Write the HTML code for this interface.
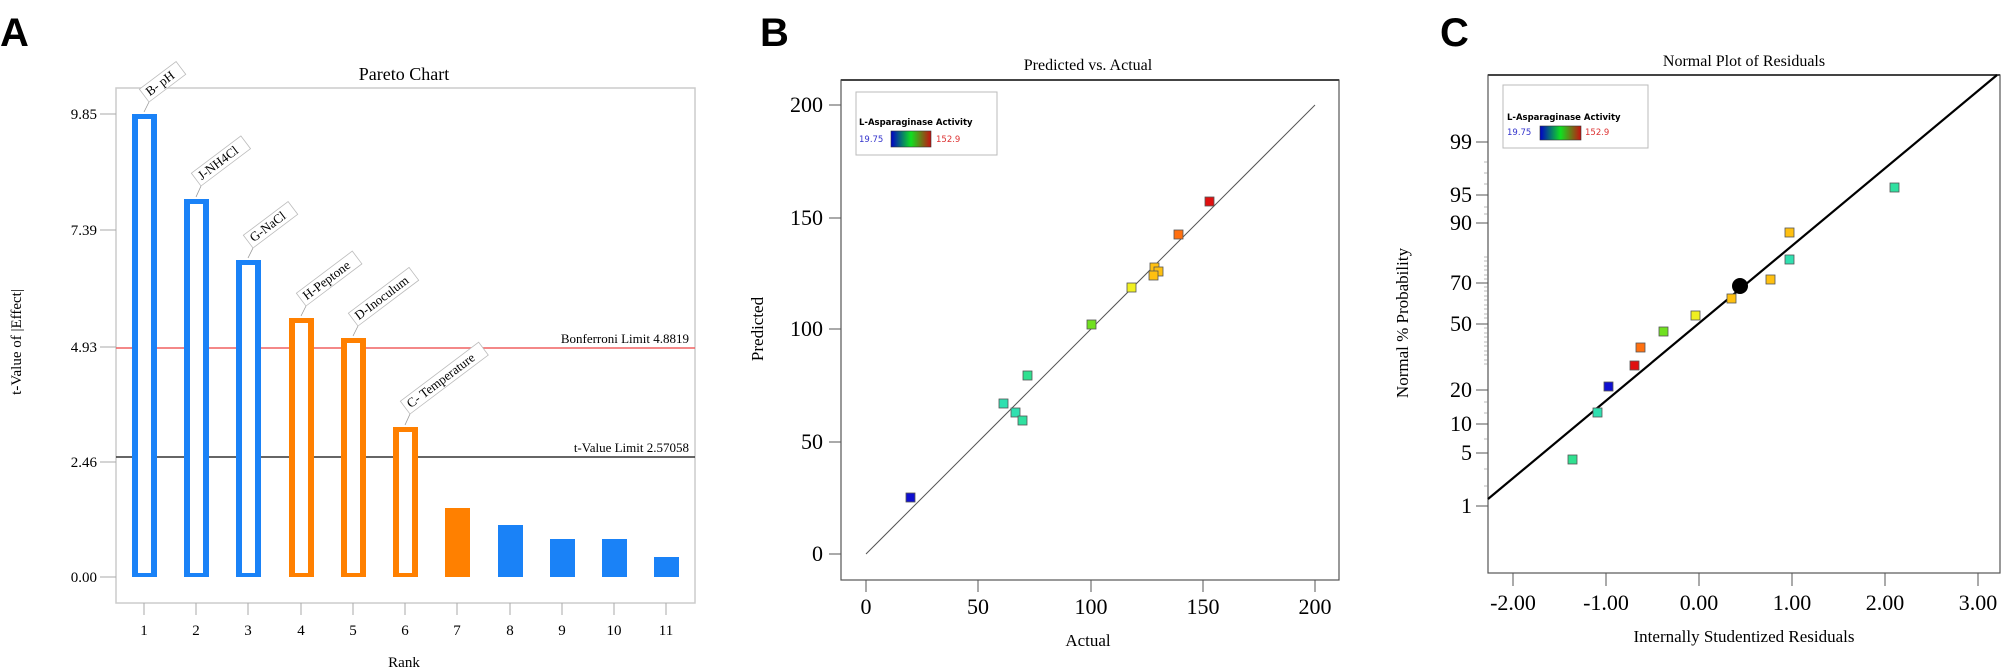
<!DOCTYPE html>
<html><head><meta charset="utf-8"><style>
html,body{margin:0;padding:0;background:#fff;}
svg{display:block;}
.s{font-family:"Liberation Serif",serif;}
.b{font-family:"DejaVu Sans",sans-serif;}
</style></head><body>
<svg width="2008" height="670" viewBox="0 0 2008 670" xmlns="http://www.w3.org/2000/svg">
<defs>
<linearGradient id="g" x1="0" x2="1" y1="0" y2="0">
<stop offset="0" stop-color="#0000c8"/><stop offset="0.5" stop-color="#10e020"/><stop offset="1" stop-color="#c81010"/>
</linearGradient>
</defs>
<text x="0" y="46" font-family="Liberation Sans, sans-serif" font-weight="bold" font-size="40">A</text>
<text x="760" y="46" font-family="Liberation Sans, sans-serif" font-weight="bold" font-size="40">B</text>
<text x="1440" y="46" font-family="Liberation Sans, sans-serif" font-weight="bold" font-size="40">C</text>

<!-- ===== Panel A ===== -->
<g class="s">
<text x="404" y="80" font-size="18" text-anchor="middle">Pareto Chart</text>
<rect x="116" y="88" width="579" height="515" fill="none" stroke="#ccc" stroke-width="1.5"/>
<g font-size="15" text-anchor="end">
<text x="97" y="119">9.85</text><text x="97" y="235">7.39</text>
<text x="97" y="352">4.93</text><text x="97" y="467">2.46</text><text x="97" y="582">0.00</text>
</g>
<g stroke="#aaa"><line x1="100" y1="114" x2="116" y2="114"/><line x1="100" y1="230" x2="116" y2="230"/><line x1="100" y1="347" x2="116" y2="347"/><line x1="100" y1="462" x2="116" y2="462"/><line x1="100" y1="577" x2="116" y2="577"/></g>
<text transform="translate(21,342) rotate(-90)" font-size="15" text-anchor="middle">t-Value of |Effect|</text>
<line x1="116" y1="348" x2="695" y2="348" stroke="#f06060" stroke-width="1.5"/>
<line x1="116" y1="457" x2="695" y2="457" stroke="#333" stroke-width="1.5"/>
<text x="689" y="343" font-size="13" text-anchor="end">Bonferroni Limit 4.8819</text>
<text x="689" y="452" font-size="13" text-anchor="end">t-Value Limit 2.57058</text>
<g>
<rect x="132" y="114" width="25" height="463" fill="#1a82f7"/><rect x="138" y="119" width="13" height="454" fill="#fff"/>
<rect x="184" y="199" width="25" height="378" fill="#1a82f7"/><rect x="190" y="204" width="13" height="369" fill="#fff"/>
<rect x="236" y="260" width="25" height="317" fill="#1a82f7"/><rect x="242" y="265" width="13" height="308" fill="#fff"/>
<rect x="289" y="318" width="25" height="259" fill="#ff8000"/><rect x="295" y="323" width="13" height="250" fill="#fff"/>
<rect x="341" y="338" width="25" height="239" fill="#ff8000"/><rect x="347" y="343" width="13" height="230" fill="#fff"/>
<rect x="393" y="427" width="25" height="150" fill="#ff8000"/><rect x="399" y="432" width="13" height="141" fill="#fff"/>
<rect x="445" y="508" width="25" height="69" fill="#ff8000"/>
<rect x="498" y="525" width="25" height="52" fill="#1a82f7"/>
<rect x="550" y="539" width="25" height="38" fill="#1a82f7"/>
<rect x="602" y="539" width="25" height="38" fill="#1a82f7"/>
<rect x="654" y="557" width="25" height="20" fill="#1a82f7"/>
</g>
<g stroke="#aaa">
<line x1="144" y1="603" x2="144" y2="615"/><line x1="196" y1="603" x2="196" y2="615"/><line x1="248" y1="603" x2="248" y2="615"/><line x1="301" y1="603" x2="301" y2="615"/><line x1="353" y1="603" x2="353" y2="615"/><line x1="405" y1="603" x2="405" y2="615"/><line x1="457" y1="603" x2="457" y2="615"/><line x1="510" y1="603" x2="510" y2="615"/><line x1="562" y1="603" x2="562" y2="615"/><line x1="614" y1="603" x2="614" y2="615"/><line x1="666" y1="603" x2="666" y2="615"/>
</g>
<g font-size="15" text-anchor="middle">
<text x="144" y="635">1</text><text x="196" y="635">2</text><text x="248" y="635">3</text><text x="301" y="635">4</text><text x="353" y="635">5</text><text x="405" y="635">6</text><text x="457" y="635">7</text><text x="510" y="635">8</text><text x="562" y="635">9</text><text x="614" y="635">10</text><text x="666" y="635">11</text>
</g>
<text x="404" y="667" font-size="15" text-anchor="middle">Rank</text>
<g font-size="13" stroke-width="0.8">
<line x1="144" y1="112" x2="149" y2="102" stroke="#999"/>
<g transform="translate(149,102) rotate(-37)"><rect x="0" y="-16" width="46" height="16" fill="#fff" stroke="#bbb"/><text x="4" y="-4">B- pH</text></g>
<line x1="196" y1="197" x2="201" y2="186" stroke="#999"/>
<g transform="translate(201,186) rotate(-37)"><rect x="0" y="-16" width="62" height="16" fill="#fff" stroke="#bbb"/><text x="4" y="-4">J-NH4Cl</text></g>
<line x1="248" y1="258" x2="253" y2="248" stroke="#999"/>
<g transform="translate(253,248) rotate(-37)"><rect x="0" y="-16" width="56" height="16" fill="#fff" stroke="#bbb"/><text x="4" y="-4">G-NaCl</text></g>
<line x1="301" y1="316" x2="306" y2="306" stroke="#999"/>
<g transform="translate(306,306) rotate(-37)"><rect x="0" y="-16" width="70" height="16" fill="#fff" stroke="#bbb"/><text x="4" y="-4">H-Peptone</text></g>
<line x1="353" y1="336" x2="358" y2="326" stroke="#999"/>
<g transform="translate(358,326) rotate(-37)"><rect x="0" y="-16" width="76" height="16" fill="#fff" stroke="#bbb"/><text x="4" y="-4">D-Inoculum</text></g>
<line x1="405" y1="425" x2="410" y2="414" stroke="#999"/>
<g transform="translate(410,414) rotate(-37)"><rect x="0" y="-16" width="98" height="16" fill="#fff" stroke="#bbb"/><text x="4" y="-4">C- Temperature</text></g>
</g>
</g>

<!-- ===== Panel B ===== -->
<g class="s">
<text x="1088" y="70" font-size="16" text-anchor="middle">Predicted vs. Actual</text>
<rect x="841" y="80" width="498" height="500" fill="none" stroke="#555" stroke-width="1.2"/>
<line x1="841" y1="80" x2="1339" y2="80" stroke="#444" stroke-width="2"/>
<g stroke="#555">
<line x1="829" y1="105" x2="841" y2="105"/><line x1="829" y1="218" x2="841" y2="218"/><line x1="829" y1="329" x2="841" y2="329"/><line x1="829" y1="442" x2="841" y2="442"/><line x1="829" y1="554" x2="841" y2="554"/>
<line x1="866" y1="580" x2="866" y2="592"/><line x1="978" y1="580" x2="978" y2="592"/><line x1="1091" y1="580" x2="1091" y2="592"/><line x1="1203" y1="580" x2="1203" y2="592"/><line x1="1315" y1="580" x2="1315" y2="592"/>
</g>
<g font-size="22" text-anchor="end">
<text x="823" y="112">200</text><text x="823" y="225">150</text><text x="823" y="336">100</text><text x="823" y="449">50</text><text x="823" y="561">0</text>
</g>
<g font-size="22" text-anchor="middle">
<text x="866" y="614">0</text><text x="978" y="614">50</text><text x="1091" y="614">100</text><text x="1203" y="614">150</text><text x="1315" y="614">200</text>
</g>
<text x="1088" y="646" font-size="17" text-anchor="middle">Actual</text>
<text transform="translate(763,329) rotate(-90)" font-size="17" text-anchor="middle">Predicted</text>
<line x1="866" y1="554" x2="1315" y2="105" stroke="#555" stroke-width="1"/>
<rect x="856" y="92" width="141" height="63" fill="#fff" stroke="#bbb"/>
<text class="b" x="859" y="125" font-size="8.5" font-weight="bold">L-Asparaginase Activity</text>
<text class="b" x="859" y="142" font-size="8.5" fill="#3333cc">19.75</text>
<rect x="891" y="131" width="40" height="16" fill="url(#g)" stroke="#333" stroke-width="0.6"/>
<text class="b" x="936" y="142" font-size="8.5" fill="#dd3333">152.9</text>
<g stroke="#555" stroke-width="0.8">
<rect x="906" y="493" width="9" height="9" fill="#1010d0"/>
<rect x="999" y="399" width="9" height="9" fill="#30e0b0"/>
<rect x="1011" y="408" width="9" height="9" fill="#30e0b0"/>
<rect x="1018" y="416" width="9" height="9" fill="#30e0a0"/>
<rect x="1023" y="371" width="9" height="9" fill="#30e090"/>
<rect x="1087" y="320" width="9" height="9" fill="#70e020"/>
<rect x="1127" y="283" width="9" height="9" fill="#f0f020"/>
<rect x="1150" y="263" width="9" height="9" fill="#ffc010"/>
<rect x="1154" y="267" width="9" height="9" fill="#ffc010"/>
<rect x="1149" y="271" width="9" height="9" fill="#ffc010"/>
<rect x="1174" y="230" width="9" height="9" fill="#ff7010"/>
<rect x="1205" y="197" width="9" height="9" fill="#e01010"/>
</g>
</g>

<!-- ===== Panel C ===== -->
<g class="s">
<text x="1744" y="66" font-size="16" text-anchor="middle">Normal Plot of Residuals</text>
<rect x="1488" y="75" width="512" height="498" fill="none" stroke="#555" stroke-width="1.2"/>
<line x1="1488" y1="75" x2="2000" y2="75" stroke="#444" stroke-width="2"/>
<g stroke="#555">
<line x1="1476" y1="142" x2="1488" y2="142"/><line x1="1476" y1="195" x2="1488" y2="195"/><line x1="1476" y1="223" x2="1488" y2="223"/><line x1="1476" y1="283" x2="1488" y2="283"/><line x1="1476" y1="324" x2="1488" y2="324"/><line x1="1476" y1="390" x2="1488" y2="390"/><line x1="1476" y1="424" x2="1488" y2="424"/><line x1="1476" y1="453" x2="1488" y2="453"/><line x1="1476" y1="506" x2="1488" y2="506"/>
</g>
<g stroke="#888" stroke-width="0.6">
<line x1="1484" y1="162" x2="1488" y2="162"/><line x1="1484" y1="173" x2="1488" y2="173"/><line x1="1484" y1="184" x2="1488" y2="184"/><line x1="1484" y1="207" x2="1488" y2="207"/><line x1="1484" y1="214" x2="1488" y2="214"/>
<line x1="1484" y1="257" x2="1488" y2="257"/><line x1="1484" y1="261" x2="1488" y2="261"/><line x1="1484" y1="266" x2="1488" y2="266"/><line x1="1484" y1="270" x2="1488" y2="270"/><line x1="1484" y1="275" x2="1488" y2="275"/><line x1="1484" y1="279" x2="1488" y2="279"/><line x1="1484" y1="287" x2="1488" y2="287"/><line x1="1484" y1="291" x2="1488" y2="291"/><line x1="1484" y1="296" x2="1488" y2="296"/><line x1="1484" y1="300" x2="1488" y2="300"/><line x1="1484" y1="305" x2="1488" y2="305"/><line x1="1484" y1="309" x2="1488" y2="309"/><line x1="1484" y1="314" x2="1488" y2="314"/><line x1="1484" y1="318" x2="1488" y2="318"/><line x1="1484" y1="328" x2="1488" y2="328"/><line x1="1484" y1="333" x2="1488" y2="333"/><line x1="1484" y1="337" x2="1488" y2="337"/><line x1="1484" y1="342" x2="1488" y2="342"/><line x1="1484" y1="346" x2="1488" y2="346"/><line x1="1484" y1="351" x2="1488" y2="351"/><line x1="1484" y1="355" x2="1488" y2="355"/><line x1="1484" y1="360" x2="1488" y2="360"/><line x1="1484" y1="364" x2="1488" y2="364"/>
<line x1="1484" y1="402" x2="1488" y2="402"/><line x1="1484" y1="413" x2="1488" y2="413"/><line x1="1484" y1="439" x2="1488" y2="439"/><line x1="1484" y1="469" x2="1488" y2="469"/><line x1="1484" y1="486" x2="1488" y2="486"/>
</g>
<g font-size="22" text-anchor="end">
<text x="1472" y="149">99</text><text x="1472" y="202">95</text><text x="1472" y="230">90</text><text x="1472" y="290">70</text><text x="1472" y="331">50</text><text x="1472" y="397">20</text><text x="1472" y="431">10</text><text x="1472" y="460">5</text><text x="1472" y="513">1</text>
</g>
<g stroke="#555">
<line x1="1513" y1="573" x2="1513" y2="586"/><line x1="1606" y1="573" x2="1606" y2="586"/><line x1="1699" y1="573" x2="1699" y2="586"/><line x1="1792" y1="573" x2="1792" y2="586"/><line x1="1885" y1="573" x2="1885" y2="586"/><line x1="1978" y1="573" x2="1978" y2="586"/>
</g>
<g font-size="22" text-anchor="middle">
<text x="1513" y="610">-2.00</text><text x="1606" y="610">-1.00</text><text x="1699" y="610">0.00</text><text x="1792" y="610">1.00</text><text x="1885" y="610">2.00</text><text x="1978" y="610">3.00</text>
</g>
<text x="1744" y="642" font-size="17" text-anchor="middle">Internally Studentized Residuals</text>
<text transform="translate(1408,323) rotate(-90)" font-size="17" text-anchor="middle">Normal % Probability</text>
<line x1="1488" y1="499" x2="1997" y2="75" stroke="#000" stroke-width="2.2"/>
<rect x="1503" y="85" width="145" height="63" fill="#fff" stroke="#bbb"/>
<text class="b" x="1507" y="120" font-size="8.5" font-weight="bold">L-Asparaginase Activity</text>
<text class="b" x="1507" y="135" font-size="8.5" fill="#3333cc">19.75</text>
<rect x="1540" y="126" width="41" height="14" fill="url(#g)" stroke="#333" stroke-width="0.6"/>
<text class="b" x="1585" y="135" font-size="8.5" fill="#dd3333">152.9</text>
<g stroke="#555" stroke-width="0.8">
<rect x="1568" y="455" width="9" height="9" fill="#30e090"/>
<rect x="1593" y="408" width="9" height="9" fill="#30e0b0"/>
<rect x="1604" y="382" width="9" height="9" fill="#1010d0"/>
<rect x="1630" y="361" width="9" height="9" fill="#e01010"/>
<rect x="1636" y="343" width="9" height="9" fill="#ff7010"/>
<rect x="1659" y="327" width="9" height="9" fill="#70e020"/>
<rect x="1691" y="311" width="9" height="9" fill="#f0f020"/>
<rect x="1727" y="294" width="9" height="9" fill="#ffc010"/>
<rect x="1766" y="275" width="9" height="9" fill="#ffc010"/>
<rect x="1785" y="255" width="9" height="9" fill="#30e0b0"/>
<rect x="1785" y="228" width="9" height="9" fill="#ffc010"/>
<rect x="1890" y="183" width="9" height="9" fill="#30e0a0"/>
</g>
<circle cx="1740" cy="286" r="8" fill="#000"/>
</g>
</svg>
</body></html>
